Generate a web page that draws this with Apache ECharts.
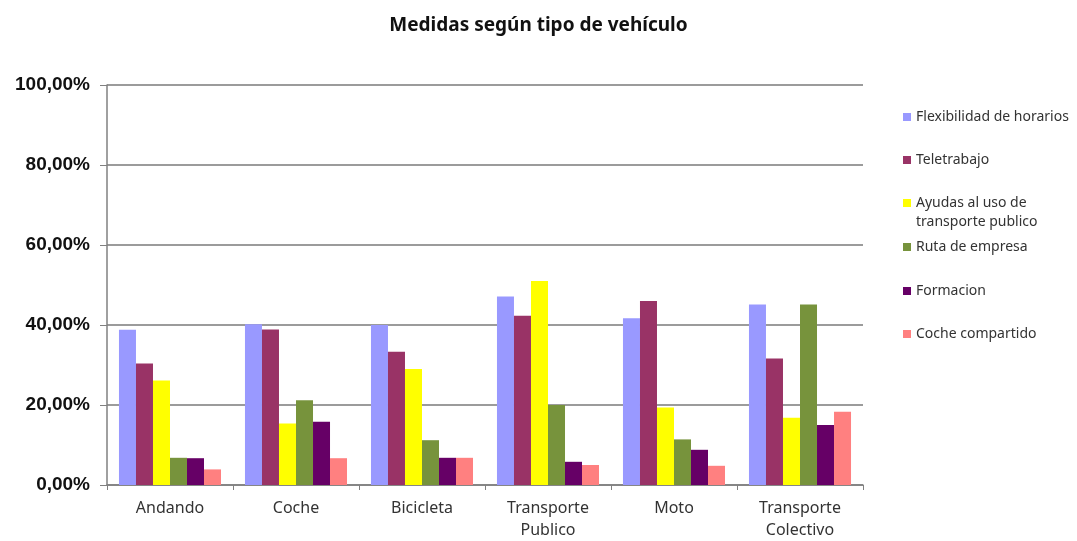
<!DOCTYPE html>
<html>
<head>
<meta charset="utf-8">
<script src="https://cdn.jsdelivr.net/npm/echarts@6/dist/echarts.min.js"></script>
<style>html,body{margin:0;padding:0;background:#fff;}#c{width:1077px;height:541px;}</style>
</head>
<body>
<div id="c"></div>
<script>
const categories = ['Andando', 'Coche', 'Bicicleta', 'Transporte\nPublico', 'Moto', 'Transporte\nColectivo'];
const flexibilidad = [38.8, 40.2, 40.0, 47.1, 41.7, 45.1];
const teletrabajo = [30.4, 38.9, 33.3, 42.3, 46.0, 31.6];
const ayudas = [26.1, 15.4, 29.0, 51.0, 19.4, 16.8];
const ruta = [6.8, 21.2, 11.2, 20.0, 11.4, 45.1];
const formacion = [6.7, 15.8, 6.8, 5.8, 8.8, 15.0];
const cocheCompartido = [3.9, 6.7, 6.8, 5.0, 4.8, 18.3];
const yTicks = { min: 0, max: 100, interval: 20 };

const names = ['Flexibilidad de horarios', 'Teletrabajo', 'Ayudas al uso de transporte publico', 'Ruta de empresa', 'Formacion', 'Coche compartido'];
const colors = ['#9999FF', '#993366', '#FFFF00', '#77933C', '#660066', '#FF8080'];
const datasets = [flexibilidad, teletrabajo, ayudas, ruta, formacion, cocheCompartido];
const legendCenters = [117, 160, 203, 247, 291, 334];

const chart = echarts.init(document.getElementById('c'));
const legendFont = { fontFamily: 'Noto Sans', fontSize: 14, color: '#333', lineHeight: 18 };
chart.setOption({
  backgroundColor: '#fff',
  animation: false,
  title: {
    text: 'Medidas según tipo de vehículo',
    left: 'center', top: 11,
    textStyle: { fontFamily: 'Noto Sans', fontWeight: 'bold', fontSize: 19, color: '#111' }
  },
  legend: names.map((n, i) => ({
    orient: 'vertical', left: 903, top: legendCenters[i] - 9, padding: 0,
    itemWidth: 8, itemHeight: 8, itemGap: 0, icon: 'rect',
    data: [n],
    formatter: (name) => name === names[2] ? 'Ayudas al uso de' : name,
    textStyle: legendFont
  })),
  graphic: [{
    type: 'text', left: 916, top: 225 - 10,
    style: { text: 'transporte publico', font: '14px "Noto Sans"', fill: '#333' }
  }],
  grid: { left: 107, right: 214, top: 85, bottom: 56, containLabel: false },
  xAxis: {
    type: 'category', data: categories,
    axisLine: { lineStyle: { color: '#808080', width: 1.5 } },
    axisTick: { show: true, length: 5, lineStyle: { color: '#808080' } },
    axisLabel: { fontFamily: 'Noto Sans', fontSize: 16, color: '#333', margin: 12, lineHeight: 22 }
  },
  yAxis: {
    type: 'value', min: yTicks.min, max: yTicks.max, interval: yTicks.interval,
    axisLine: { show: true, lineStyle: { color: '#808080', width: 1.5 } },
    axisTick: { show: true, length: 7, lineStyle: { color: '#808080' } },
    splitLine: { lineStyle: { color: '#7a7a7a', width: 1.5 } },
    axisLabel: {
      fontFamily: 'Liberation Sans', fontWeight: 'bold', fontSize: 19, color: '#111', margin: 17,
      formatter: (v) => v.toFixed(2).replace('.', ',') + '%'
    }
  },
  series: datasets.map((d, i) => ({
    name: names[i], type: 'bar', data: d,
    barGap: '0%', barCategoryGap: '19%',
    itemStyle: { color: colors[i] }
  }))
});
</script>
</body>
</html>
